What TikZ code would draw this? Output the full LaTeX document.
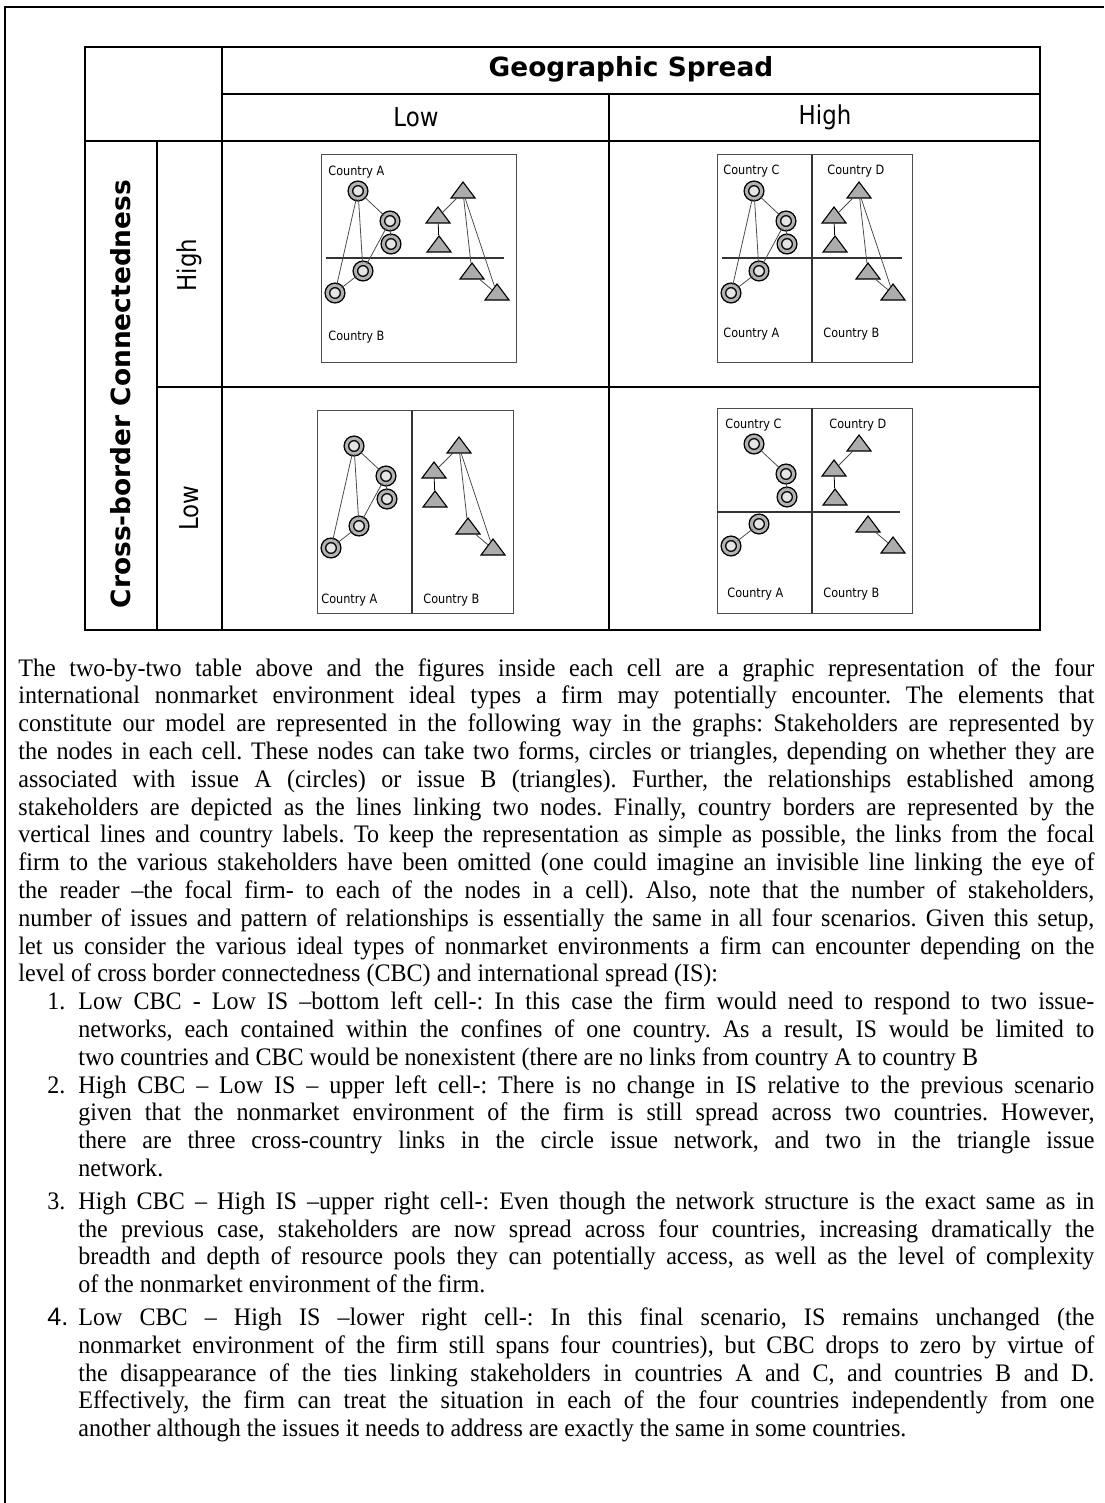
\documentclass[tikz,border=0pt]{standalone}
\usepackage{fontspec}
\setmainfont{Liberation Serif}[FakeStretch=0.955]
\newfontfamily\tabfont{DejaVu Sans}[FakeStretch=0.88]
\newfontfamily\headfont{DejaVu Sans}
\newfontfamily\numfont{Liberation Sans}
\usetikzlibrary{shapes.geometric,positioning}
\frenchspacing

% numbered cases under the table
\newenvironment{casesteps}{\begin{list}{}{\setlength{\leftmargin}{30pt}\setlength{\labelwidth}{15.5pt}\setlength{\labelsep}{0pt}%
  \setlength{\topsep}{0pt}\setlength{\partopsep}{0pt}\setlength{\itemsep}{0pt}\setlength{\parsep}{0pt}%
  \renewcommand{\makelabel}[1]{##1\hfil}}}{\end{list}}

% the ten stakeholders of one cell, named with a prefix
\newcommand{\stakenodes}[1]{%
  \node[issueA] (#1c1) at (37,36) {};
  \node[issueA] (#1c2) at (69,66) {};
  \node[issueA] (#1c3) at (70,89) {};
  \node[issueA] (#1c4) at (42,116) {};
  \node[issueA] (#1c5) at (14,138) {};
  \node[issueB] (#1t1) at (142,37) {};
  \node[issueB] (#1t2) at (117,62) {};
  \node[issueB] (#1t3) at (118,91) {};
  \node[issueB] (#1t4) at (151,118) {};
  \node[issueB] (#1t5) at (176,139) {};
  \draw[tie] (#1c1) -- (#1c2);
  \draw[tie] (#1c2) -- (#1c3);
  \draw[tie] (#1c4) -- (#1c5);
  \draw[tie] (#1t1) -- (#1t2);
  \draw[tie, black] (#1t2) -- (#1t3);
  \draw[tie] (#1t4) -- (#1t5);
}
\newcommand{\crossties}[1]{%
  \draw[tie] (#1c1) -- (#1c4);
  \draw[tie] (#1c1) -- (#1c5);
  \draw[tie] (#1c2) -- (#1c4);
  \draw[tie] (#1t1) -- (#1t4);
  \draw[tie] (#1t1) -- (#1t5);
}

\begin{document}
\begin{tikzpicture}[x=0.5pt, y=-0.5pt,
    tablerule/.style={line width=1pt},
    cellbox/.style={draw=black!70, line width=0.5pt},
    border/.style={draw=black!80, line width=0.6pt},
    tie/.style={draw=black!70, line width=0.4pt},
    issueA/.style={circle, draw, line width=0.7pt, double=gray!60, double distance=1.5pt, fill=gray!20, inner sep=0pt, minimum size=7.6pt},
    issueB/.style={isosceles triangle, isosceles triangle stretches, shape border rotate=90, draw, fill=gray!65, line width=0.55pt, inner sep=0pt, minimum width=12pt, minimum height=8pt},
    land/.style={font=\tabfont\fontsize{6.4}{7}\selectfont, inner sep=0pt, anchor=west},
    headbold/.style={font=\headfont\bfseries\fontsize{13.2}{15}\selectfont},
    headtext/.style={font=\tabfont\fontsize{13}{15}\selectfont},
    bodytext/.style={text width=538pt, align=justify, inner sep=0pt, font=\fontsize{12.6}{13.9}\selectfont}]
  \useasboundingbox (0,0) rectangle (1104,1503);

  % page frame
  \draw[line width=0.8pt] (5,1503) -- (5,7) -- (1104,7);

  % table
  \draw[tablerule] (85,47) rectangle (1040,630);
  \draw[tablerule] (222,94) -- (1040,94);
  \draw[tablerule] (85,141) -- (1040,141);
  \draw[tablerule] (157,387) -- (1040,387);
  \draw[tablerule] (222,47) -- (222,630);
  \draw[tablerule] (157,141) -- (157,630);
  \draw[tablerule] (609,94) -- (609,630);

  \node[headbold] (spread) at (631,69) {Geographic Spread};
  \node[headtext] (lowcol) at (416,117) {Low};
  \node[headtext] (highcol) at (825,117) {High};
  \node[headbold, rotate=90] (cbc) at (121,394) {Cross-border Connectedness};
  \node[headtext, rotate=90] (highrow) at (189,265) {High};
  \node[headtext, rotate=90] (lowrow) at (189,508) {Low};

  % high CBC, low IS
  \begin{scope}[shift={(321,155)}]
    \draw[cellbox] (0,0) rectangle (195,207);
    \draw[border] (5,103) -- (183,103);
    \node[land] (ulA) at (7,17) {Country A};
    \node[land] (ulB) at (7,182) {Country B};
    \stakenodes{ul}
    \crossties{ul}
  \end{scope}

  % high CBC, high IS
  \begin{scope}[shift={(717,155)}]
    \draw[cellbox] (0,0) rectangle (195,207);
    \draw[border] (95,0) -- (95,207);
    \draw[border] (5,103) -- (185,103);
    \node[land] (urC) at (6,16) {Country C};
    \node[land] (urD) at (110,16) {Country D};
    \node[land] (urA) at (6,179) {Country A};
    \node[land] (urB) at (106,179) {Country B};
    \stakenodes{ur}
    \crossties{ur}
  \end{scope}

  % low CBC, low IS
  \begin{scope}[shift={(317,410)}]
    \draw[cellbox] (0,0) rectangle (196,203);
    \draw[border] (95,0) -- (95,203);
    \node[land] (llA) at (4,190) {Country A};
    \node[land] (llB) at (106,190) {Country B};
    \stakenodes{ll}
    \draw[tie] (llc1) -- (llc4);
    \draw[tie] (llc1) -- (llc5);
    \draw[tie] (llc2) -- (llc4);
    \draw[tie] (llt1) -- (llt4);
    \draw[tie] (llt1) -- (llt5);
  \end{scope}

  % low CBC, high IS
  \begin{scope}[shift={(717,408)}]
    \draw[cellbox] (0,0) rectangle (195,205);
    \draw[border] (95,0) -- (95,205);
    \draw[border] (0,104) -- (183,104);
    \node[land] (lrC) at (8,17) {Country C};
    \node[land] (lrD) at (112,17) {Country D};
    \node[land] (lrA) at (10,186) {Country A};
    \node[land] (lrB) at (106,186) {Country B};
    \stakenodes{lr}
  \end{scope}

  % explanation below the table
  \node[bodytext, anchor=north west] (notes) at (18,658) {%
The two-by-two table above and the figures inside each cell are a graphic representation of the four\linebreak
international nonmarket environment ideal types a firm may potentially encounter. The elements that\linebreak
constitute our model are represented in the following way in the graphs: Stakeholders are represented by\linebreak
the nodes in each cell. These nodes can take two forms, circles or triangles, depending on whether they are\linebreak
associated with issue A (circles) or issue B (triangles). Further, the relationships established among\linebreak
stakeholders are depicted as the lines linking two nodes. Finally, country borders are represented by the\linebreak
vertical lines and country labels. To keep the representation as simple as possible, the links from the focal\linebreak
firm to the various stakeholders have been omitted (one could imagine an invisible line linking the eye of\linebreak
the reader –the focal firm- to each of the nodes in a cell). Also, note that the number of stakeholders,\linebreak
number of issues and pattern of relationships is essentially the same in all four scenarios. Given this setup,\linebreak
let us consider the various ideal types of nonmarket environments a firm can encounter depending on the\linebreak
level of cross border connectedness (CBC) and international spread (IS):
\begin{casesteps}
\item[1.] Low CBC - Low IS –bottom left cell-: In this case the firm would need to respond to two issue-\linebreak
networks, each contained within the confines of one country. As a result, IS would be limited to\linebreak
two countries and CBC would be nonexistent (there are no links from country A to country B
\item[2.] High CBC – Low IS – upper left cell-: There is no change in IS relative to the previous scenario\linebreak
given that the nonmarket environment of the firm is still spread across two countries. However,\linebreak
there are three cross-country links in the circle issue network, and two in the triangle issue\linebreak
network.
\vspace{2.5pt}
\item[3.] High CBC – High IS –upper right cell-: Even though the network structure is the exact same as in\linebreak
the previous case, stakeholders are now spread across four countries, increasing dramatically the\linebreak
breadth and depth of resource pools they can potentially access, as well as the level of complexity\linebreak
of the nonmarket environment of the firm.
\vspace{2.5pt}
\item[{\numfont 4.}] Low CBC – High IS –lower right cell-: In this final scenario, IS remains unchanged (the\linebreak
nonmarket environment of the firm still spans four countries), but CBC drops to zero by virtue of\linebreak
the disappearance of the ties linking stakeholders in countries A and C, and countries B and D.\linebreak
Effectively, the firm can treat the situation in each of the four countries independently from one\linebreak
another although the issues it needs to address are exactly the same in some countries.
\end{casesteps}};
\end{tikzpicture}
\end{document}
